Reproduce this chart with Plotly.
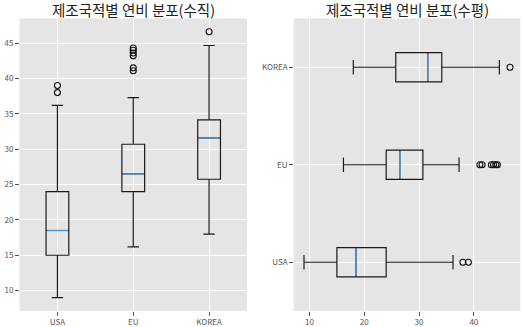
import plotly.graph_objects as go

categories = ["USA", "EU", "KOREA"]
lower_whisker = [9.0, 16.2, 18.0]
q1 = [15.0, 24.0, 25.75]
median = [18.5, 26.5, 31.6]
q3 = [24.0, 30.7, 34.15]
upper_whisker = [36.2, 37.3, 44.66]
outliers = {
    "USA": [38.0, 39.0],
    "EU": [41.1, 41.5, 43.2, 43.6, 44.0, 44.3],
    "KOREA": [46.6],
}
titles = ["제조국적별 연비 분포(수직)", "제조국적별 연비 분포(수평)"]

W, H = 524, 327
FONT = "Noto Sans CJK KR"
BOX_W = 0.3
MED_COLOR = "#4f9ad6"
pos = [1, 2, 3]

fig = go.Figure()

for vertical, (xa, ya) in [(True, ("x", "y")), (False, ("x2", "y2"))]:
    for i, c in enumerate(categories):
        p = pos[i]
        if vertical:
            fig.add_trace(go.Box(
                x=[p], q1=[q1[i]], median=[median[i]], q3=[q3[i]],
                lowerfence=[lower_whisker[i]], upperfence=[upper_whisker[i]],
                width=BOX_W, whiskerwidth=0.5, boxpoints=False,
                fillcolor="rgba(0,0,0,0)", line=dict(color="#1a1a1a", width=1.2),
                orientation="v", xaxis=xa, yaxis=ya, showlegend=False, hoverinfo="skip"))
            fig.add_trace(go.Scatter(
                x=[p - BOX_W / 2 + 0.012, p + BOX_W / 2 - 0.012], y=[median[i], median[i]],
                mode="lines", line=dict(color=MED_COLOR, width=1.4),
                xaxis=xa, yaxis=ya, showlegend=False, hoverinfo="skip"))
            fig.add_trace(go.Scatter(
                x=[p] * len(outliers[c]), y=outliers[c], mode="markers",
                marker=dict(symbol="circle-open", size=6, color="#111", line=dict(width=1.1)),
                xaxis=xa, yaxis=ya, showlegend=False, hoverinfo="skip"))
        else:
            fig.add_trace(go.Box(
                y=[p], q1=[q1[i]], median=[median[i]], q3=[q3[i]],
                lowerfence=[lower_whisker[i]], upperfence=[upper_whisker[i]],
                width=BOX_W, whiskerwidth=0.5, boxpoints=False,
                fillcolor="rgba(0,0,0,0)", line=dict(color="#1a1a1a", width=1.2),
                orientation="h", xaxis=xa, yaxis=ya, showlegend=False, hoverinfo="skip"))
            fig.add_trace(go.Scatter(
                y=[p - BOX_W / 2 + 0.012, p + BOX_W / 2 - 0.012], x=[median[i], median[i]],
                mode="lines", line=dict(color=MED_COLOR, width=1.4),
                xaxis=xa, yaxis=ya, showlegend=False, hoverinfo="skip"))
            fig.add_trace(go.Scatter(
                y=[p] * len(outliers[c]), x=outliers[c], mode="markers",
                marker=dict(symbol="circle-open", size=6, color="#111", line=dict(width=1.1)),
                xaxis=xa, yaxis=ya, showlegend=False, hoverinfo="skip"))

vals_min = min(lower_whisker)
vals_max = max(max(v) for v in outliers.values())
pad = 0.05 * (vals_max - vals_min)
vrange = [vals_min - pad, vals_max + pad]

tick_common = dict(ticks="outside", ticklen=3.5, tickcolor="#555", tickwidth=1,
                   tickfont=dict(family=FONT, size=8, color="#555"),
                   showgrid=True, gridcolor="white", gridwidth=1, zeroline=False,
                   showline=False)

top = 1 - 18.5 / H
bot = 1 - 311 / H

fig.update_layout(
    width=W, height=H, margin=dict(l=0, r=0, t=0, b=0),
    paper_bgcolor="white", plot_bgcolor="#E5E5E5",
    font=dict(family=FONT),
    xaxis=dict(domain=[19.5 / W, 247 / W], range=[0.5, 3.5], tickvals=pos,
               ticktext=categories, anchor="y", **tick_common),
    yaxis=dict(domain=[bot, top], range=vrange, tickvals=[10, 15, 20, 25, 30, 35, 40, 45],
               anchor="x", **tick_common),
    xaxis2=dict(domain=[293.7 / W, 520.3 / W], range=vrange, tickvals=[10, 20, 30, 40],
                anchor="y2", **tick_common),
    yaxis2=dict(domain=[bot, top], range=[0.5, 3.5], tickvals=pos, ticktext=categories,
                anchor="x2", **tick_common),
    annotations=[
        dict(text=titles[0], x=(19.5 + 247) / 2 / W, y=1 - 9.5 / H, xref="paper", yref="paper",
             showarrow=False, xanchor="center", yanchor="middle",
             font=dict(family=FONT, size=14.5, color="#222")),
        dict(text=titles[1], x=(293.7 + 520.3) / 2 / W, y=1 - 9.5 / H, xref="paper", yref="paper",
             showarrow=False, xanchor="center", yanchor="middle",
             font=dict(family=FONT, size=14.5, color="#222")),
    ],
)

fig.write_html("out.html")
